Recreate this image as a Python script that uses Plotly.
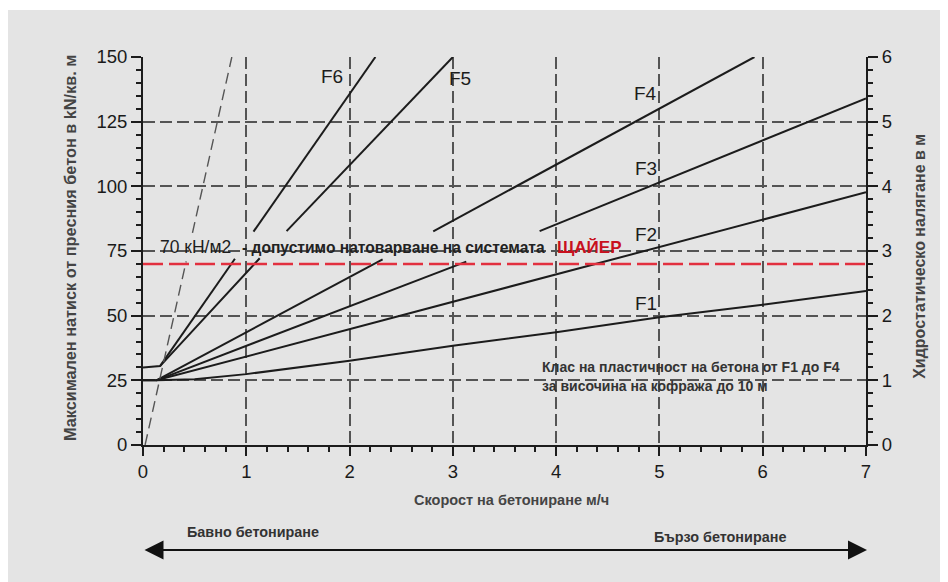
import plotly.graph_objects as go

# ---- data ----
speed_ticks = [0, 1, 2, 3, 4, 5, 6, 7]
pressure_ticks = [0, 25, 50, 75, 100, 125, 150]
height_ticks = [0, 1, 2, 3, 4, 5, 6]

f1_x = [0, 0.13, 0.5, 1, 2, 3, 4, 5, 6, 7]
f1_y = [25, 25, 25.4, 27.4, 32.6, 38.4, 43.6, 49.4, 54.2, 59.5]
f2_x = [0, 0.13, 7]
f2_y = [25, 25, 97.7]
f3_x = [0.13, 3.13, None, 3.84, 7]
f3_y = [25, 70.9, None, 82.7, 134]
f4_x = [0.13, 2.32, None, 2.81, 5.92]
f4_y = [25, 71.8, None, 82.6, 150]
f5_x = [0, 0.165, 1.13, None, 1.39, 3.0]
f5_y = [30, 30.5, 72.2, None, 82.7, 150]
f6_x = [0.165, 0.89, None, 1.07, 2.25]
f6_y = [30.5, 72, None, 82.5, 150]
hydro_x = [0.02, 0.418, None, 0.479, 0.86]
hydro_y = [0, 71, None, 82, 150]
limit_x = [0, 7.05]
limit_y = [70, 70]

class_labels = ["F1", "F2", "F3", "F4", "F5", "F6"]
class_label_x = [5.0, 5.0, 5.0, 5.0, 3.07, 1.83]
class_label_y = [54.8, 81.2, 107, 136, 141.5, 142.4]

FONT = "Liberation Sans, Arial, sans-serif"
INK = "#1c1c1c"

fig = go.Figure()

series = [(f1_x, f1_y), (f2_x, f2_y), (f3_x, f3_y), (f4_x, f4_y), (f5_x, f5_y), (f6_x, f6_y)]
for (xs, ys), name in zip(series, class_labels):
    fig.add_trace(go.Scatter(x=xs, y=ys, mode="lines", name=name,
                             line=dict(color=INK, width=2), connectgaps=False,
                             showlegend=False, hoverinfo="skip"))

fig.add_trace(go.Scatter(x=hydro_x, y=hydro_y, mode="lines", showlegend=False,
                         line=dict(color="#555555", width=1.4, dash="11px,6px"),
                         connectgaps=False, hoverinfo="skip"))
fig.add_trace(go.Scatter(x=limit_x, y=limit_y, mode="lines", showlegend=False,
                         line=dict(color="#e2303f", width=2.6, dash="20px,6px"),
                         cliponaxis=False, hoverinfo="skip"))
# invisible trace for the right axis
fig.add_trace(go.Scatter(x=[0, 7], y=[0, 6], yaxis="y2", mode="markers",
                         marker=dict(opacity=0), showlegend=False, hoverinfo="skip"))

annotations = []
for lab, lx, ly in zip(class_labels, class_label_x, class_label_y):
    xa = "right" if lab in ("F1", "F2", "F3", "F4") else "center"
    annotations.append(dict(x=lx, y=ly, xref="x", yref="y", text=lab, showarrow=False,
                            xanchor=xa, yanchor="middle",
                            font=dict(family=FONT, size=19, color=INK)))

annotations += [
    dict(x=0.145, y=76.5, xref="x", yref="y", text="70 кН/м2", showarrow=False,
         xanchor="left", yanchor="middle", font=dict(family=FONT, size=17.5, color="#1e1e1e")),
    dict(x=0.94, y=76.5, xref="x", yref="y", text="<b>- допустимо натоварване на системата</b>",
         showarrow=False, xanchor="left", yanchor="middle",
         font=dict(family=FONT, size=15.6, color="#222")),
    dict(x=3.99, y=76.5, xref="x", yref="y", text="<b>ЩАЙЕР</b>", showarrow=False,
         xanchor="left", yanchor="middle", font=dict(family=FONT, size=17, color="#c8101e")),
    dict(x=3.84, y=30.3, xref="x", yref="y", text="<b>Клас на пластичност на бетона от F1 до F4</b>",
         showarrow=False, xanchor="left", yanchor="middle",
         font=dict(family=FONT, size=14, color="#333")),
    dict(x=3.84, y=23, xref="x", yref="y", text="<b>за височина на кофража до 10 м</b>",
         showarrow=False, xanchor="left", yanchor="middle",
         font=dict(family=FONT, size=14, color="#333")),
    dict(x=3.57, y=-0.142, xref="x", yref="paper", text="<b>Скорост на бетониране м/ч</b>",
         showarrow=False, xanchor="center", yanchor="middle",
         font=dict(family=FONT, size=14.5, color="#444")),
    dict(x=-0.101, y=0.51, xref="paper", yref="paper",
         text="<b>Максимален натиск от пресния бетон в kN/кв. м</b>", textangle=-90,
         showarrow=False, xanchor="center", yanchor="middle",
         font=dict(family=FONT, size=16.3, color="#444")),
    dict(x=1.0747, y=0.485, xref="paper", yref="paper",
         text="<b>Хидростатическо налягане в м</b>", textangle=-90,
         showarrow=False, xanchor="center", yanchor="middle",
         font=dict(family=FONT, size=16, color="#444")),
    dict(x=0.41, y=-0.224, xref="x", yref="paper", text="<b>Бавно бетониране</b>",
         showarrow=False, xanchor="left", yanchor="middle",
         font=dict(family=FONT, size=14.4, color="#333")),
    dict(x=4.93, y=-0.237, xref="x", yref="paper", text="<b>Бързо бетониране</b>",
         showarrow=False, xanchor="left", yanchor="middle",
         font=dict(family=FONT, size=14.4, color="#333")),
    dict(x=7.01, y=-0.2706, xref="x", yref="paper", ax=0.0, ay=0, axref="x", ayref="pixel",
         text="", showarrow=True, arrowhead=2, arrowside="end+start", arrowsize=1.9,
         arrowwidth=2, arrowcolor="#111"),
]

grid = dict(showgrid=True, gridcolor="#545454", gridwidth=1.5, griddash="12px,5px")
tickfont = dict(family=FONT, size=18.5, color="#1a1a1a")

fig.update_layout(
    width=948, height=582,
    margin=dict(l=135, r=90, t=49, b=145),
    paper_bgcolor="white", plot_bgcolor="rgba(0,0,0,0)",
    font=dict(family=FONT, color=INK),
    showlegend=False,
    annotations=annotations,
    shapes=[dict(type="rect", xref="paper", yref="paper", x0=-0.1867, x1=1.2,
                 y0=-0.45, y1=1.1211, fillcolor="#e4e4e4", line=dict(width=0), layer="below")],
    xaxis=dict(range=[0, 7], tickvals=speed_ticks, ticks="outside", ticklen=9, tickwidth=2,
               tickcolor=INK, showline=True, linecolor=INK, linewidth=2, zeroline=False,
               tickfont=tickfont,
               minor=dict(dtick=0.2, ticks="outside", ticklen=5, tickwidth=1.5, tickcolor=INK, showgrid=False),
               **grid),
    yaxis=dict(range=[0, 150], tickvals=pressure_ticks, ticks="outside", ticklen=10, tickwidth=2,
               tickcolor=INK, showline=True, linecolor=INK, linewidth=2, zeroline=False,
               tickfont=tickfont,
               minor=dict(dtick=5, ticks="outside", ticklen=5, tickwidth=1.5, tickcolor=INK, showgrid=False),
               **grid),
    yaxis2=dict(range=[0, 6], tickvals=height_ticks, overlaying="y", side="right",
                ticks="outside", ticklen=10, tickwidth=2, tickcolor=INK, showline=True,
                linecolor=INK, linewidth=2, zeroline=False, showgrid=False,
                tickfont=tickfont,
                minor=dict(dtick=0.2, ticks="outside", ticklen=5, tickwidth=1.5, tickcolor=INK)),
)

fig.write_html("out.html")
